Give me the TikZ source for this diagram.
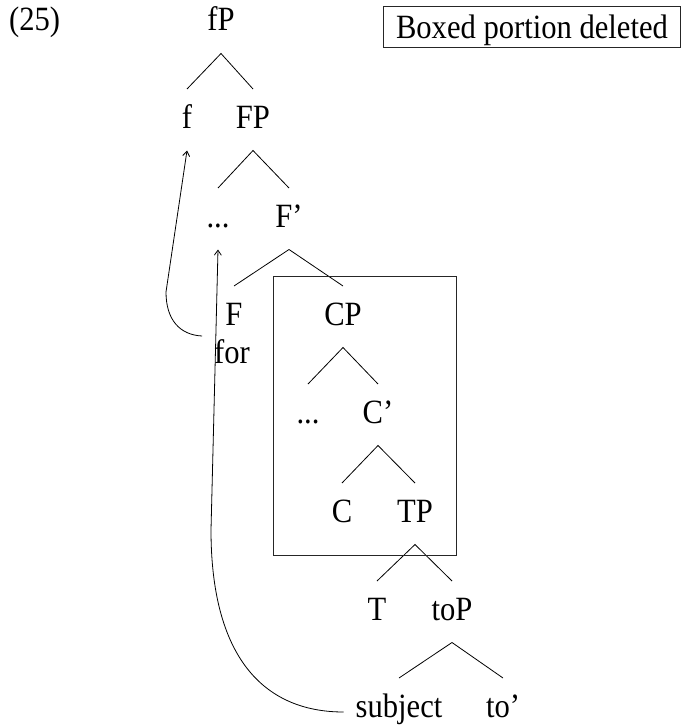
\documentclass[tikz,border=0pt]{standalone}
\usepackage{fontspec}
\setmainfont[FakeStretch=0.9]{Liberation Serif}
\usetikzlibrary{arrows.meta}
\begin{document}
\begin{tikzpicture}[x=1pt,y=-1pt,
  txt/.style={font=\fontsize{34}{40}\selectfont},
  lbl/.style={txt,inner sep=0pt,outer sep=0pt,anchor=base,text height=39pt,text depth=22.5pt},
  br/.style={line width=0.8pt},
  mv/.style={line width=0.8pt,-{Straight Barb[length=5pt,width=7pt]}},
  boxl/.style={line width=1pt,draw=black!85}
]
\useasboundingbox (0,0) rectangle (683,725);
% labels
\node[txt,inner sep=0pt,anchor=base west] (ex) at (9,31) {(25)};
\node[txt,boxl,draw,anchor=base west,inner xsep=12.5pt,inner ysep=0pt,text height=32pt,text depth=9pt] (note) at (383,39) {Boxed portion deleted};
\node[lbl] (fP) at (221,31) {fP};
\node[lbl] (f) at (187,128) {f};
\node[lbl] (FP) at (253,128) {FP};
\node[lbl] (d1) at (218,227) {...};
\node[lbl] (Fb) at (289,227) {F'};
\node[lbl] (F) at (234,325) {F};
\node[lbl] (for) at (232,363) {for};
\node[lbl] (CP) at (343,325) {CP};
\node[lbl] (d2) at (308,423) {...};
\node[lbl] (Cb) at (378,423) {C'};
\node[lbl] (C) at (342,522) {C};
\node[lbl] (TP) at (415,522) {TP};
\node[lbl] (T) at (377,620) {T};
\node[lbl] (toP) at (452,620) {toP};
\node[lbl] (subj) at (399,717) {subject};
\node[lbl] (tob) at (503,717) {to'};
% branches
\draw[br] (f.north) -- (fP.south) -- (FP.north);
\draw[br] (d1.north) -- (FP.south) -- (Fb.north);
\draw[br] (F.north) -- (Fb.south) -- (CP.north);
\draw[br] (d2.north) -- (CP.south) -- (Cb.north);
\draw[br] (C.north) -- (Cb.south) -- (TP.north);
\draw[br] (T.north) -- (TP.south) -- (toP.north);
\draw[br] (subj.north) -- (toP.south) -- (tob.north);
% deletion box
\draw[boxl] (273,276) rectangle (456,555);
% movement arrows
\draw[mv] ([shift={(-12,-27)}]for.base west) .. controls (180,335) and (166,320) .. (166,292) -- (f.south);
\draw[mv] ([shift={(-12,-5)}]subj.base west) .. controls (262,712) and (211,655) .. (211,530) -- (d1.south);
\end{tikzpicture}
\end{document}
